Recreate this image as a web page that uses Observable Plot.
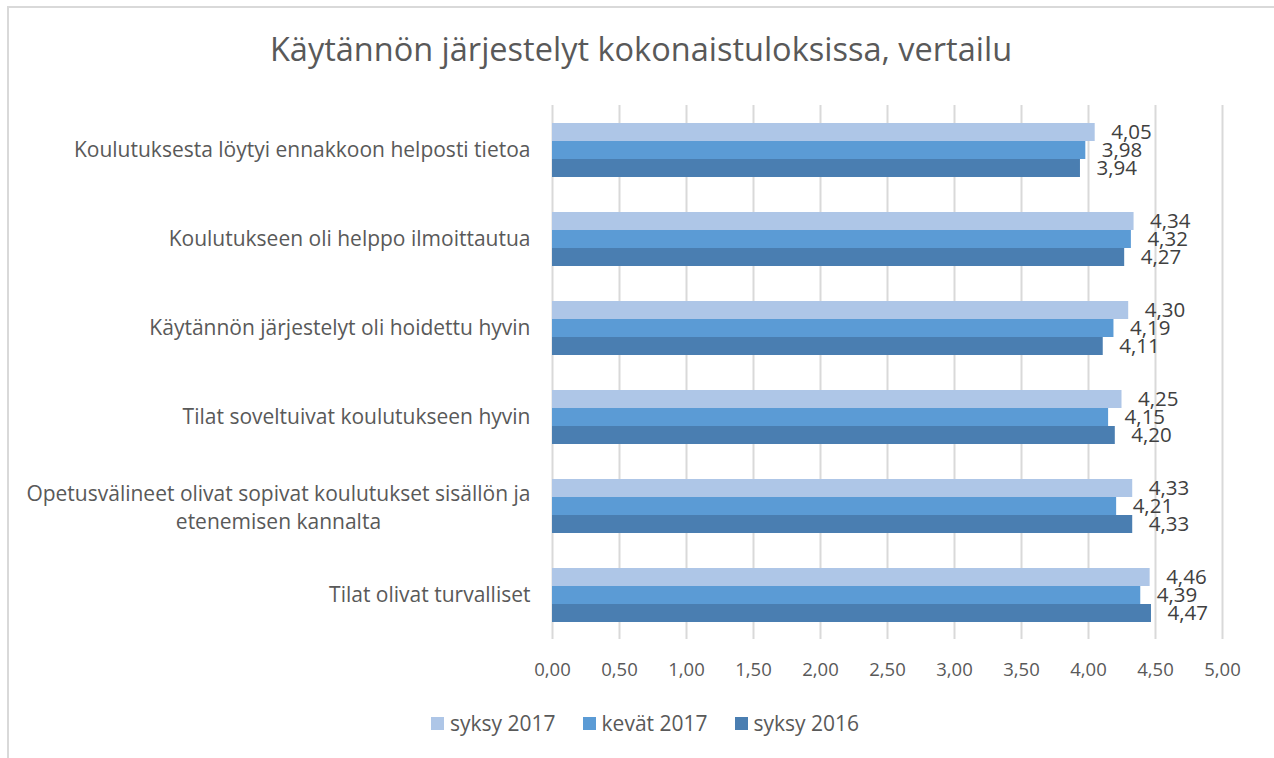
<!DOCTYPE html>
<html><head><meta charset="utf-8">
<script src="https://cdn.jsdelivr.net/npm/d3@7"></script>
<script src="https://cdn.jsdelivr.net/npm/@observablehq/plot@0.6"></script>
<style>
body{margin:0;background:#fff;font-family:"Open Sans",sans-serif;}
#wrap{position:relative;width:1274px;height:758px;overflow:hidden;}
#frame{position:absolute;left:7px;top:6px;width:1280px;height:770px;border-left:2px solid #d9d9d9;border-top:2px solid #d9d9d9;}
#title{position:absolute;left:0;top:29px;width:1282px;text-align:center;font-size:32.5px;line-height:40px;color:#595959;white-space:nowrap;}
#chart{position:absolute;left:0;top:0;}
#legend{position:absolute;left:431px;top:708px;display:flex;align-items:center;font-size:21px;line-height:30px;color:#595959;white-space:nowrap;}
.item{display:flex;align-items:center;margin-right:27px;}
.sw{width:13px;height:13px;margin-right:6px;}
</style>
</head><body>
<div id="wrap">
  <div id="frame"></div>
  <div id="chart"></div>
  <div id="title">Käytännön järjestelyt kokonaistuloksissa, vertailu</div>
  <div id="legend"></div>
</div>
<script>
const categories = [
  "Koulutuksesta löytyi ennakkoon helposti tietoa",
  "Koulutukseen oli helppo ilmoittautua",
  "Käytännön järjestelyt oli hoidettu hyvin",
  "Tilat soveltuivat koulutukseen hyvin",
  "Opetusvälineet olivat sopivat koulutukset sisällön ja\netenemisen kannalta",
  "Tilat olivat turvalliset"
];
const series = ["syksy 2017", "kevät 2017", "syksy 2016"];
const syksy2017 = [4.05, 4.34, 4.30, 4.25, 4.33, 4.46];
const kevat2017 = [3.98, 4.32, 4.19, 4.15, 4.21, 4.39];
const syksy2016 = [3.94, 4.27, 4.11, 4.20, 4.33, 4.47];
const colors = ["#aec6e7", "#5b9bd5", "#4a7eb1"];
const xTicks = [0, 0.5, 1, 1.5, 2, 2.5, 3, 3.5, 4, 4.5, 5];

const seriesValues = [syksy2017, kevat2017, syksy2016];
const data = [];
categories.forEach((c, i) => series.forEach((s, j) => data.push({category: c, series: s, value: seriesValues[j][i]})));

const fmt = v => v.toFixed(2).replace(".", ",");
const labelSize = 21;

// measure widest line of wrapped label to center its lines like the original
const ctx = document.createElement("canvas").getContext("2d");
ctx.font = `${labelSize}px "Open Sans"`;
const wrapped = categories.filter(c => c.includes("\n"));
const single = categories.filter(c => !c.includes("\n"));
const wrapW = wrapped.length ? d3.max(wrapped[0].split("\n"), l => ctx.measureText(l).width) : 0;
const gap = 22;

function grid() {
  try {
    return Plot.ruleX(xTicks, {x: d => d, stroke: "#d9d9d9", strokeWidth: 2, facet: "super"});
  } catch (e) {
    return Plot.ruleX(xTicks, {x: d => d, stroke: "#d9d9d9", strokeWidth: 2});
  }
}

const chart = Plot.plot({
  width: 1274,
  height: 700,
  marginLeft: 552,
  marginRight: 52,
  marginTop: 103,
  marginBottom: 50,
  style: {fontFamily: "Open Sans", color: "#595959", background: "transparent"},
  x: {domain: [0, 5], ticks: xTicks, tickFormat: fmt, tickSize: 0, tickPadding: 23, label: null, fontSize: 18.5},
  y: {domain: series, paddingInner: 0, paddingOuter: 0.93, axis: null},
  fy: {domain: categories, paddingInner: 0, paddingOuter: 0.073, align: 0.15, axis: null},
  color: {domain: series, range: colors},
  marks: [
    grid(),
    Plot.barX(data, {x: "value", y: "series", fy: "category", fill: "series"}),
    Plot.text(data, {x: "value", y: "series", fy: "category", text: d => fmt(d.value), textAnchor: "start", dx: 16, fontSize: 20.5, fill: "#404040"}),
    Plot.text(single, {fy: d => d, text: d => d, frameAnchor: "left", textAnchor: "end", dx: -gap, fontSize: labelSize, fill: "#595959"}),
    Plot.text(wrapped, {fy: d => d, text: d => d, frameAnchor: "left", textAnchor: "middle", dx: -gap - wrapW / 2, fontSize: labelSize, lineHeight: 1.33, fill: "#595959"})
  ]
});
chart.querySelectorAll("g[aria-label='x-axis tick label']").forEach(e => { e.setAttribute("font-size", 18.5); e.setAttribute("fill", "#595959"); });
document.getElementById("chart").appendChild(chart);

const legend = document.getElementById("legend");
series.forEach((s, i) => {
  const it = document.createElement("div");
  it.className = "item";
  it.innerHTML = `<div class="sw" style="background:${colors[i]}"></div><span>${s}</span>`;
  legend.appendChild(it);
});
</script>
</body></html>
